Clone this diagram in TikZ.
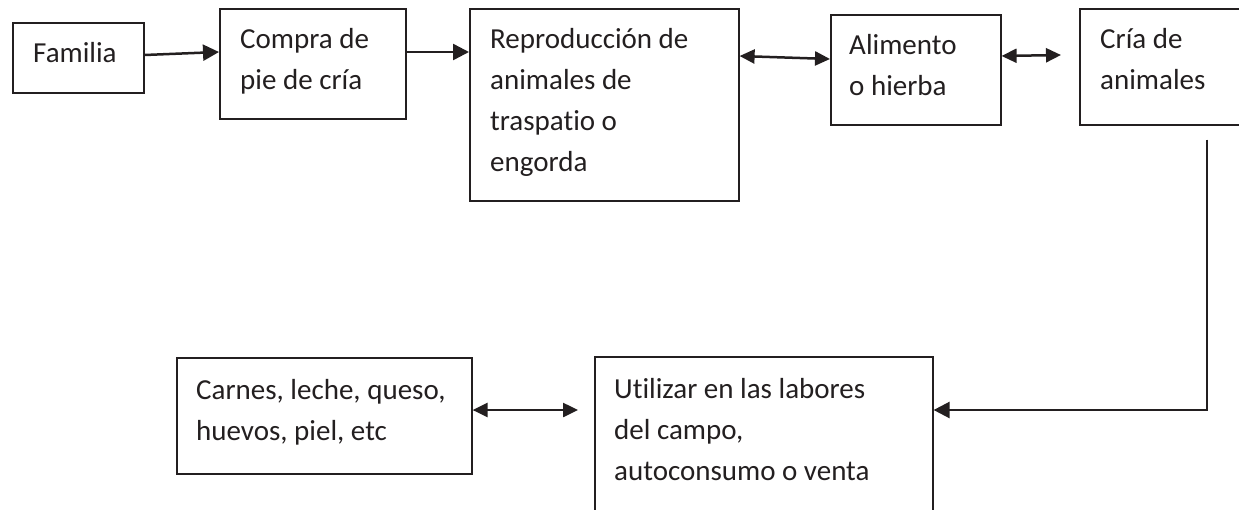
\documentclass[tikz,border=0pt]{standalone}
\usepackage{fontspec}
\setmainfont{Carlito}[Ligatures=NoCommon]
\usetikzlibrary{arrows.meta,calc}
\definecolor{ink}{HTML}{231F20}
\begin{document}
\begin{tikzpicture}[x=1pt,y=-1pt,
  box/.style={draw=ink,line width=1.6pt,rectangle,inner sep=0pt,anchor=north west},
  txt/.style={anchor=north west,inner sep=0pt,align=left,text=ink,
    font=\fontsize{29}{41}\selectfont},
  arr/.style={draw=ink,line width=2.5pt,-{Triangle[length=16pt,width=16pt]}},
  darr/.style={draw=ink,line width=2.5pt,{Triangle[length=15pt,width=14pt]}-{Triangle[length=15pt,width=14pt]}}]
\useasboundingbox (0,0) rectangle (1239,509);
\clip (0,0) rectangle (1239,509);
\fill[white] (0,0) rectangle (1239,509);
% boxes
\node[box,minimum width=131pt,minimum height=70pt] (fam) at (12,22) {};
\node[box,minimum width=186pt,minimum height=110pt] (cmp) at (219,8) {};
\node[box,minimum width=269pt,minimum height=192pt] (rep) at (469,8) {};
\node[box,minimum width=170pt,minimum height=110pt] (ali) at (830,14) {};
\node[box,minimum width=190pt,minimum height=116pt] (cria) at (1079,8) {};
\node[box,minimum width=295pt,minimum height=116pt] (car) at (176,357) {};
\node[box,minimum width=338pt,minimum height=180pt] (uti) at (594,356) {};
% texts
\node[txt] (tfam) at ($(fam.north west)+(21,11.3)$) {\strut Familia};
\node[txt] (tcmp) at ($(cmp.north west)+(21,11.3)$) {\strut Compra de\\pie de cría};
\node[txt] (trep) at ($(rep.north west)+(21,11.3)$) {\strut Reproducción de\\animales de\\traspatio o\\engorda};
\node[txt] (tali) at ($(ali.north west)+(19,11.3)$) {\strut Alimento\\o hierba};
\node[txt] (tcria) at ($(cria.north west)+(21,11.3)$) {\strut Cría de\\animales};
\node[txt] (tcar) at ($(car.north west)+(20,13.3)$) {\strut Carnes, leche, queso,\\huevos, piel, etc};
\node[txt] (tuti) at ($(uti.north west)+(20,13.3)$) {\strut Utilizar en las labores\\del campo,\\autoconsumo o venta};
% connectors
\coordinate (a4) at ($(cria.west |- 0,55)+(-18,0)$);
\coordinate (c1) at ($(cria.south west)+(128,14)$);
\coordinate (c2) at (c1 |- 0,410);
\coordinate (a6) at ($(uti.west |- 0,410)+(-16,0)$);
\draw[arr] (fam.east |- 0,55) -- (cmp.west |- 0,52);
\draw[arr] (cmp.east |- 0,52) -- (rep.west |- 0,52);
\draw[darr] (rep.east |- 0,56) -- (ali.west |- 0,59);
\draw[darr] (ali.east |- 0,56) -- (a4);
\draw[arr] (c1) -- (c2) -- (uti.east |- c2);
\draw[darr] (car.east |- 0,410) -- (a6);
\end{tikzpicture}
\end{document}
